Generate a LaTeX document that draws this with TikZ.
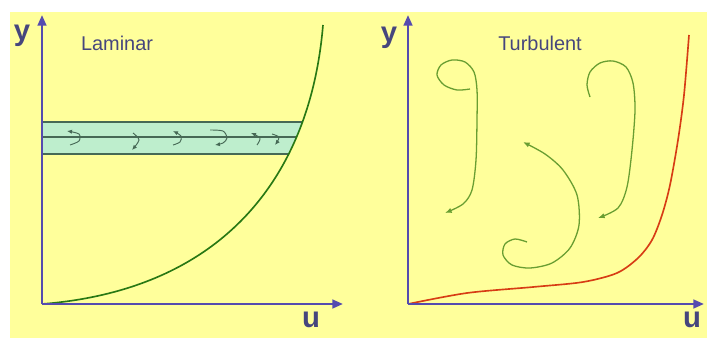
\documentclass[tikz,border=0pt]{standalone}
\usepackage{fontspec}
\setmainfont{Liberation Sans}
\usepackage{tikz}
\usetikzlibrary{
  arrows.meta,
  positioning
}
\definecolor{paleyellow}{RGB}{255,255,155}
\definecolor{axisblue}{RGB}{85,75,175}
\definecolor{labelblue}{RGB}{70,70,125}
\definecolor{profgreen}{RGB}{40,120,20}
\definecolor{eddygreen}{RGB}{105,158,50}
\definecolor{bandfill}{RGB}{190,238,205}
\definecolor{bandline}{RGB}{70,105,85}
\definecolor{profred}{RGB}{215,60,20}

\begin{document}
\begin{tikzpicture}[
  x=0.3mm, y=-0.3mm,
  axis/.style={line width=2pt, axisblue, -{Triangle[length=3.2mm,width=2.6mm]}},
  axlabel/.style={font=\fontsize{25}{25}\selectfont\bfseries, text=labelblue},
  title/.style={font=\fontsize{17}{17}\selectfont, text=labelblue},
  eddy/.style={line width=1.1pt, eddygreen, -{Latex[length=2mm,width=1.6mm]}},
  hook/.style={line width=0.8pt, bandline, -{Latex[length=1.5mm,width=1.3mm]}},
  bandrule/.style={line width=0.9pt, bandline}
]
\useasboundingbox (0,0) rectangle (707,338);
\fill[white] (0,0) rectangle (707,338);
\fill[paleyellow] (10,12) rectangle (707,338);

% laminar panel
\coordinate (lo) at (42,304);
\coordinate (ltop) at (42,15);
\coordinate (lend) at (343,304);
\coordinate (lcurveend) at (323,25);

\begin{scope}
  \clip (lo) .. controls (220,290) and (310,180) .. (lcurveend) -- (ltop) -- cycle;
  \fill[bandfill] (42,122) rectangle (330,154);
  \draw[bandrule] (42,122) -- (330,122);
  \draw[bandrule] (42,137) -- (330,137);
  \draw[bandrule] (42,154) -- (330,154);
\end{scope}

\draw[hook] plot[smooth] coordinates {(70,145) (79,141) (79,134) (67,131)};
\draw[hook] plot[smooth] coordinates {(133,133) (139,140) (132,150)};
\draw[hook] plot[smooth] coordinates {(173,145) (180,142) (181,136) (173,131)};
\draw[hook] plot[smooth] coordinates {(210,130) (223,131) (227,138) (223,143) (215,145)};
\draw[hook] plot[smooth] coordinates {(257,145) (260,138) (251,133)};
\draw[hook] plot[smooth] coordinates {(272,134) (279,137) (277,142) (275,145)};

\draw[line width=1.4pt, profgreen] (lo) .. controls (220,290) and (310,180) .. (lcurveend);

\draw[axis] (lo) -- (ltop);
\draw[axis] (lo) -- (lend);
\node[axlabel] (ly) at (22,36) {y};
\node[axlabel] (lu) at (311,320) {u};
\node[title] (lam) at (117,43) {Laminar};

% turbulent panel
\coordinate (to) at (408,304);
\coordinate (ttop) at (408,15);
\coordinate (tend) at (704,304);

\draw[eddy] plot[smooth] coordinates {(470,89) (457,90) (444,85) (437,75) (441,65) (452,60) (465,62) (474,72) (477,90) (477,120) (476,160) (472,190) (463,204) (445,213)};
\draw[eddy] plot[smooth] coordinates {(527,242) (515,239) (505,244) (503,255) (512,265) (530,268) (552,263) (570,248) (579,225) (577,195) (563,170) (545,154) (523,142)};
\draw[eddy] plot[smooth] coordinates {(590,97) (587,85) (590,72) (600,63) (613,61) (626,67) (633,83) (635,110) (632,150) (627,187) (618,208) (598,218)};

\draw[line width=1.4pt, profred] plot[smooth] coordinates {(to) (467,293) (533,287) (583,282) (617,273) (638,258) (652,240) (662,215) (670,185) (678,140) (684,95) (689,35)};

\draw[axis] (to) -- (ttop);
\draw[axis] (to) -- (tend);
\node[axlabel] (ty) at (389,38) {y};
\node[axlabel] (tu) at (692,320) {u};
\node[title] (turb) at (540,43) {Turbulent};
\end{tikzpicture}
\end{document}
